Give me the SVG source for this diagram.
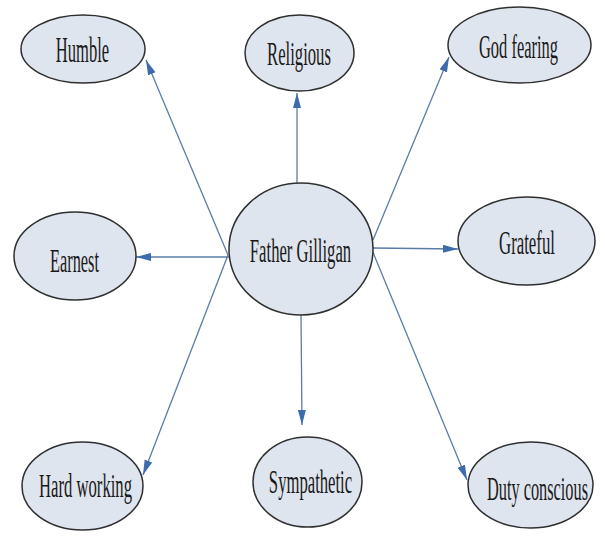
<svg xmlns="http://www.w3.org/2000/svg" width="605" height="540" viewBox="0 0 605 540">
<defs>
<style>
.node ellipse{fill:#dfe5ee;stroke:#2f2f2f;stroke-width:1.5}
.node text{font-family:"Liberation Serif","Times New Roman",serif;font-size:34px;fill:#1a1a1a;text-anchor:middle}
.edges line{stroke:#5a7ca6;stroke-width:1.3;fill:none}
</style>
<marker id="arr" markerUnits="userSpaceOnUse" markerWidth="16" markerHeight="10" refX="15" refY="4" orient="auto">
<path d="M0,0 L15,4 L0,8 z" fill="#3d6cae"/>
</marker>
</defs>
<rect width="605" height="540" fill="#ffffff"/>
<g id="edges" class="edges">
<line x1="228" y1="255" x2="146" y2="60" marker-end="url(#arr)"/>
<line x1="297" y1="183" x2="297" y2="93" marker-end="url(#arr)"/>
<line x1="373" y1="240" x2="449" y2="57" marker-end="url(#arr)"/>
<line x1="229" y1="257" x2="136" y2="257" marker-end="url(#arr)"/>
<line x1="373" y1="248" x2="458" y2="249" marker-end="url(#arr)"/>
<line x1="228" y1="255" x2="143" y2="475" marker-end="url(#arr)"/>
<line x1="301" y1="315" x2="302" y2="425" marker-end="url(#arr)"/>
<line x1="372" y1="250" x2="467" y2="480" marker-end="url(#arr)"/>
</g>
<g id="humble" class="node"><ellipse cx="83" cy="49" rx="62" ry="34"/><text transform="translate(82.5,62) scale(0.46,1)" style="font-size:36px">Humble</text></g>
<g id="religious" class="node"><ellipse cx="299.5" cy="53" rx="54.5" ry="38"/><text transform="translate(299,65) scale(0.49,1)">Religious</text></g>
<g id="god-fearing" class="node"><ellipse cx="519.5" cy="45" rx="71.5" ry="38"/><text transform="translate(518.5,58) scale(0.485,1)">God fearing</text></g>
<g id="earnest" class="node"><ellipse cx="75" cy="256" rx="61" ry="44"/><text transform="translate(74.5,272) scale(0.48,1)">Earnest</text></g>
<g id="father-gilligan" class="node"><ellipse cx="301" cy="249" rx="72" ry="66"/><text transform="translate(300.5,262) scale(0.49,1)">Father Gilligan</text></g>
<g id="grateful" class="node"><ellipse cx="526.5" cy="241" rx="68.5" ry="44"/><text transform="translate(527,254) scale(0.495,1)">Grateful</text></g>
<g id="hard-working" class="node"><ellipse cx="82.5" cy="486" rx="60.5" ry="44"/><text transform="translate(85.5,497) scale(0.49,1)">Hard working</text></g>
<g id="sympathetic" class="node"><ellipse cx="307.5" cy="482" rx="54.5" ry="45"/><text transform="translate(310.5,493) scale(0.49,1)">Sympathetic</text></g>
<g id="duty-conscious" class="node"><ellipse cx="530.5" cy="485" rx="62.5" ry="43"/><text transform="translate(537.5,500) scale(0.48,1)">Duty conscious</text></g>
</svg>
